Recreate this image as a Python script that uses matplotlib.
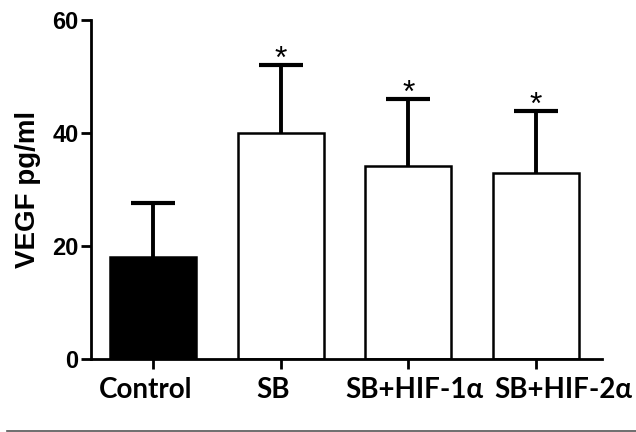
import matplotlib
matplotlib.use('Agg')
import matplotlib.pyplot as plt
from matplotlib.lines import Line2D
from matplotlib.transforms import ScaledTranslation

# data
groups = ['Control', 'SB', 'SB+HIF-1α', 'SB+HIF-2α']
means = [18.0, 40.0, 34.2, 32.9]
upper_err = [9.6, 12.0, 11.8, 11.0]
significant = [False, True, True, True]
yticks = [0, 20, 40, 60]

fig = plt.figure(figsize=(6.36, 4.32), dpi=100)
ax = fig.add_axes([91 / 636, 1 - 359 / 432, 511 / 636, 339 / 432])

x = range(len(groups))
colors = ['black', 'white', 'white', 'white']
ax.bar(x, means, width=0.675, color=colors, edgecolor='black', linewidth=1.8, zorder=2)
eb = ax.errorbar(x, means, yerr=[[0] * len(means), upper_err], fmt='none', ecolor='black',
                 elinewidth=2.8, capsize=16, capthick=3, zorder=1)
# only keep the upper caps
eb[1][0].set_visible(False)

for i, (m, e, s) in enumerate(zip(means, upper_err, significant)):
    if s:
        ax.annotate('*', (i, m + e), xytext=(0, -7), textcoords='offset points',
                    ha='center', va='bottom', fontsize=23, fontfamily='Liberation Sans')

ax.set_xlim(-0.49, 3.52)
ax.set_ylim(0, 60)
ax.set_yticks(yticks)
ax.set_xticks(list(x))
ax.set_xticklabels([])
# group labels: in the original they are nudged sideways so the long ones don't collide
shifts_px = [-8, -8, 6, 28]
for i, (name, dx) in enumerate(zip(groups, shifts_px)):
    off = ScaledTranslation(dx / 100, -18 / 100, fig.dpi_scale_trans)
    ax.text(i, 0, name, transform=ax.get_xaxis_transform() + off, ha='center', va='top',
            fontfamily='Lato', fontweight='bold', fontsize=20)
for lab in ax.get_yticklabels():
    lab.set_fontfamily('Liberation Sans')
    lab.set_fontweight('bold')
    lab.set_fontsize(17)
ax.set_ylabel('VEGF pg/ml', fontfamily='Liberation Sans', fontweight='bold', fontsize=20, labelpad=8)

for side in ['top', 'right']:
    ax.spines[side].set_visible(False)
for side in ['left', 'bottom']:
    ax.spines[side].set_linewidth(2)
ax.tick_params(axis='both', width=2, length=7, pad=2)

# thin grey rule at the bottom of the image
fig.add_artist(Line2D([7 / 636, 1], [1 - 431 / 432] * 2, color='#555555', linewidth=1.2))

plt.savefig('out.png', dpi=100)
